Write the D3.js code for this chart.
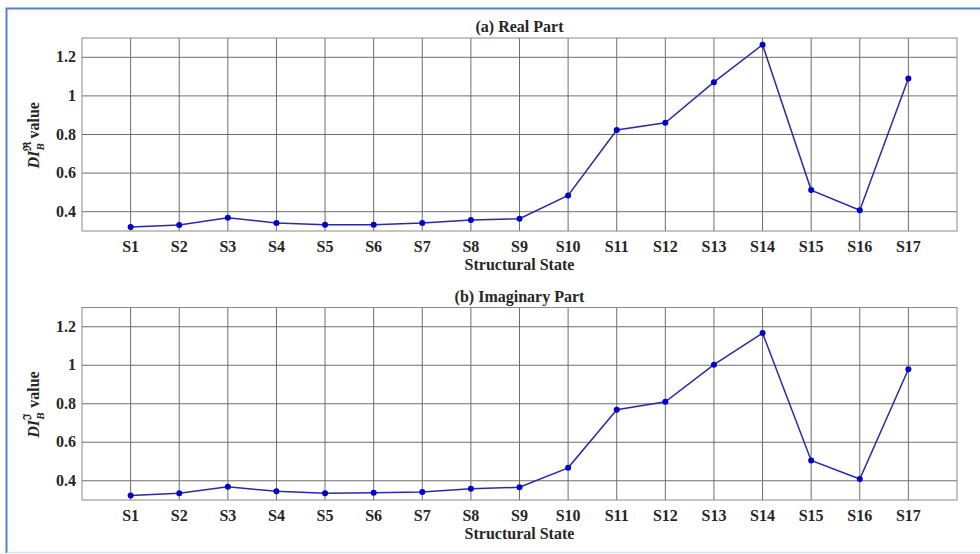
<!DOCTYPE html>
<html lang="en">
<head>
    <meta charset="utf-8">
    <title>DI_B value per structural state</title>
    <script type="text/javascript" src="https://cdn.jsdelivr.net/npm/d3@7"></script>
    <style type="text/css">
        body { margin: 0; background: #fff; }
        text { font-family: "Liberation Serif", "Times New Roman", serif; font-weight: bold; fill: #262626; }
    </style>
</head>
<body>
<script type="text/javascript">

    var w = 980;
    var h = 554;

    var states = ["S1","S2","S3","S4","S5","S6","S7","S8","S9","S10","S11","S12","S13","S14","S15","S16","S17"];
    var realValues = [0.321, 0.331, 0.369, 0.341, 0.333, 0.333, 0.341, 0.357, 0.364, 0.484, 0.823, 0.861, 1.071, 1.265, 0.512, 0.408, 1.090];
    var imagValues = [0.324, 0.335, 0.369, 0.345, 0.335, 0.338, 0.341, 0.358, 0.366, 0.467, 0.769, 0.810, 1.003, 1.167, 0.505, 0.409, 0.979];
    var yTicks = [0.4, 0.6, 0.8, 1, 1.2];

    var svg = d3.select("body")
        .append("svg")
        .attr("width", w)
        .attr("height", h);

    // blue frame round the figure
    svg.append("path")
        .attr("d", "M6.5,553 L6.5,8.5 L980,8.5")
        .attr("fill", "none")
        .attr("stroke", "#5b82c8")
        .attr("stroke-width", 2);
    svg.append("line")
        .attr("x1", 7).attr("x2", 980).attr("y1", 552.5).attr("y2", 552.5)
        .attr("stroke", "#d6e6f7").attr("stroke-width", 1.5);

    var left = 82, right = 957;

    function drawPanel(top, bottom, values, title, sup) {
        var xScale = d3.scaleLinear().domain([0, 18]).range([left, right]);
        var yScale = d3.scaleLinear().domain([0.3, 1.3]).range([bottom, top]);

        var g = svg.append("g");

        // grid
        g.selectAll(".vgrid")
            .data(states)
            .enter()
            .append("line")
            .attr("x1", function (d, i) { return xScale(i + 1); })
            .attr("x2", function (d, i) { return xScale(i + 1); })
            .attr("y1", top).attr("y2", bottom)
            .attr("stroke", "#6e6e6e").attr("stroke-width", 1);

        g.selectAll(".hgrid")
            .data(yTicks)
            .enter()
            .append("line")
            .attr("x1", left).attr("x2", right)
            .attr("y1", function (d) { return yScale(d); })
            .attr("y2", function (d) { return yScale(d); })
            .attr("stroke", "#6e6e6e").attr("stroke-width", 1);

        g.append("rect")
            .attr("x", left).attr("y", top)
            .attr("width", right - left).attr("height", bottom - top)
            .attr("fill", "none").attr("stroke", "#8a8a8a").attr("stroke-width", 1);

        // tick labels
        g.selectAll(".xlab")
            .data(states)
            .enter()
            .append("text")
            .attr("x", function (d, i) { return xScale(i + 1); })
            .attr("y", bottom + 21)
            .attr("text-anchor", "middle")
            .attr("font-size", "16px")
            .text(function (d) { return d; });

        g.selectAll(".ylab")
            .data(yTicks)
            .enter()
            .append("text")
            .attr("x", left - 6)
            .attr("y", function (d) { return yScale(d) + 5; })
            .attr("text-anchor", "end")
            .attr("font-size", "16px")
            .text(function (d) { return d; });

        // line and markers
        var line = d3.line()
            .x(function (d, i) { return xScale(i + 1); })
            .y(function (d) { return yScale(d); });

        g.append("path")
            .datum(values)
            .attr("d", line)
            .attr("fill", "none")
            .attr("stroke", "#2a2aa8")
            .attr("stroke-width", 1.5);

        g.selectAll("circle")
            .data(values)
            .enter()
            .append("circle")
            .attr("cx", function (d, i) { return xScale(i + 1); })
            .attr("cy", function (d) { return yScale(d); })
            .attr("r", 3)
            .attr("fill", "#0000c8");

        // titles
        g.append("text")
            .attr("x", (left + right) / 2)
            .attr("y", top - 6)
            .attr("text-anchor", "middle")
            .attr("font-size", "16px")
            .text(title);

        g.append("text")
            .attr("x", (left + right) / 2)
            .attr("y", bottom + 39)
            .attr("text-anchor", "middle")
            .attr("font-size", "16px")
            .text("Structural State");

        // y label: DI_B^sup value
        var yl = g.append("g")
            .attr("transform", "translate(39," + ((top + bottom) / 2 + 1) + ") rotate(-90)");
        yl.append("text")
            .attr("x", -33).attr("y", 0)
            .attr("font-size", "16px").attr("font-style", "italic")
            .text("DI");
        yl.append("text")
            .attr("x", -15).attr("y", -8)
            .attr("font-size", "11px")
            .text(sup);
        yl.append("text")
            .attr("x", -15).attr("y", 5)
            .attr("font-size", "11px").attr("font-style", "italic")
            .text("B");
        yl.append("text")
            .attr("x", -3).attr("y", 0)
            .attr("font-size", "16px")
            .text("value");
    }

    drawPanel(38, 231, realValues, "(a) Real Part", "\u211C");
    drawPanel(307.5, 500, imagValues, "(b) Imaginary Part", "\u2111");

</script>
</body>
</html>
